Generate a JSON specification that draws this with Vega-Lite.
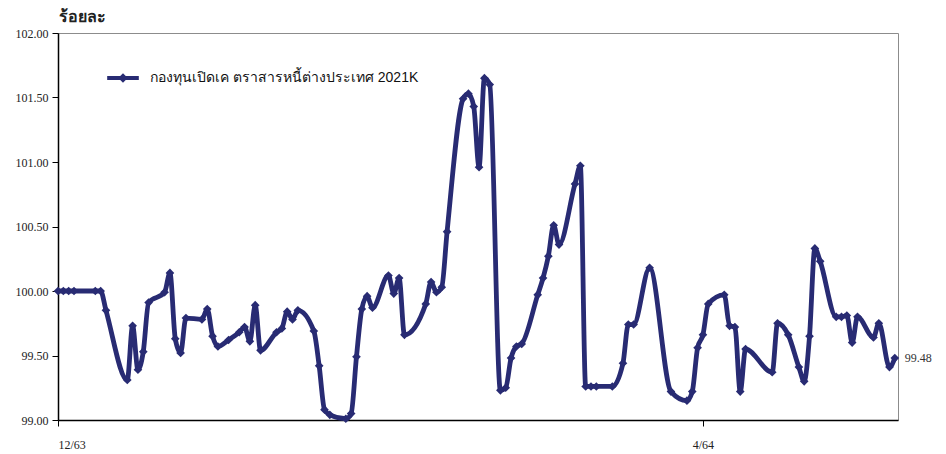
{
  "$schema": "https://vega.github.io/schema/vega-lite/v6.json",
  "width": 840,
  "height": 387,
  "autosize": {"type": "none"},
  "padding": {"left": 58, "top": 33, "right": 48, "bottom": 34},
  "background": "white",
  "config": {"view": {"stroke": "#8c8c8c", "strokeWidth": 1}},
  "data": {
    "format": {"parse": {"date": "date"}},
    "values": [
      {"date": "2020-12-01", "v": 100.00},
      {"date": "2020-12-02", "v": 100.00},
      {"date": "2020-12-03", "v": 100.00},
      {"date": "2020-12-04", "v": 100.00},
      {"date": "2020-12-08", "v": 100.00},
      {"date": "2020-12-09", "v": 100.00},
      {"date": "2020-12-10", "v": 99.85},
      {"date": "2020-12-14", "v": 99.31},
      {"date": "2020-12-15", "v": 99.73},
      {"date": "2020-12-16", "v": 99.39},
      {"date": "2020-12-17", "v": 99.53},
      {"date": "2020-12-18", "v": 99.91},
      {"date": "2020-12-21", "v": 99.99},
      {"date": "2020-12-22", "v": 100.14},
      {"date": "2020-12-23", "v": 99.63},
      {"date": "2020-12-24", "v": 99.52},
      {"date": "2020-12-25", "v": 99.79},
      {"date": "2020-12-28", "v": 99.78},
      {"date": "2020-12-29", "v": 99.86},
      {"date": "2020-12-30", "v": 99.65},
      {"date": "2020-12-31", "v": 99.57},
      {"date": "2021-01-02", "v": 99.62},
      {"date": "2021-01-04", "v": 99.68},
      {"date": "2021-01-05", "v": 99.72},
      {"date": "2021-01-06", "v": 99.61},
      {"date": "2021-01-07", "v": 99.89},
      {"date": "2021-01-08", "v": 99.54},
      {"date": "2021-01-11", "v": 99.68},
      {"date": "2021-01-12", "v": 99.71},
      {"date": "2021-01-13", "v": 99.84},
      {"date": "2021-01-14", "v": 99.78},
      {"date": "2021-01-15", "v": 99.85},
      {"date": "2021-01-18", "v": 99.69},
      {"date": "2021-01-19", "v": 99.42},
      {"date": "2021-01-20", "v": 99.08},
      {"date": "2021-01-21", "v": 99.04},
      {"date": "2021-01-24", "v": 99.01},
      {"date": "2021-01-25", "v": 99.05},
      {"date": "2021-01-26", "v": 99.49},
      {"date": "2021-01-27", "v": 99.86},
      {"date": "2021-01-28", "v": 99.96},
      {"date": "2021-01-29", "v": 99.87},
      {"date": "2021-02-01", "v": 100.12},
      {"date": "2021-02-02", "v": 99.98},
      {"date": "2021-02-03", "v": 100.10},
      {"date": "2021-02-04", "v": 99.66},
      {"date": "2021-02-08", "v": 99.90},
      {"date": "2021-02-09", "v": 100.07},
      {"date": "2021-02-10", "v": 99.99},
      {"date": "2021-02-11", "v": 100.03},
      {"date": "2021-02-12", "v": 100.46},
      {"date": "2021-02-15", "v": 101.49},
      {"date": "2021-02-16", "v": 101.53},
      {"date": "2021-02-17", "v": 101.43},
      {"date": "2021-02-18", "v": 100.96},
      {"date": "2021-02-19", "v": 101.65},
      {"date": "2021-02-20", "v": 101.60},
      {"date": "2021-02-22", "v": 99.23},
      {"date": "2021-02-23", "v": 99.25},
      {"date": "2021-02-24", "v": 99.48},
      {"date": "2021-02-25", "v": 99.57},
      {"date": "2021-02-26", "v": 99.59},
      {"date": "2021-03-01", "v": 99.97},
      {"date": "2021-03-02", "v": 100.10},
      {"date": "2021-03-03", "v": 100.27},
      {"date": "2021-03-04", "v": 100.51},
      {"date": "2021-03-05", "v": 100.36},
      {"date": "2021-03-08", "v": 100.83},
      {"date": "2021-03-09", "v": 100.97},
      {"date": "2021-03-10", "v": 99.26},
      {"date": "2021-03-11", "v": 99.26},
      {"date": "2021-03-12", "v": 99.26},
      {"date": "2021-03-15", "v": 99.26},
      {"date": "2021-03-17", "v": 99.44},
      {"date": "2021-03-18", "v": 99.74},
      {"date": "2021-03-19", "v": 99.74},
      {"date": "2021-03-22", "v": 100.18},
      {"date": "2021-03-26", "v": 99.22},
      {"date": "2021-03-29", "v": 99.15},
      {"date": "2021-03-30", "v": 99.22},
      {"date": "2021-03-31", "v": 99.56},
      {"date": "2021-04-01", "v": 99.66},
      {"date": "2021-04-02", "v": 99.90},
      {"date": "2021-04-05", "v": 99.97},
      {"date": "2021-04-06", "v": 99.73},
      {"date": "2021-04-07", "v": 99.72},
      {"date": "2021-04-08", "v": 99.22},
      {"date": "2021-04-09", "v": 99.55},
      {"date": "2021-04-14", "v": 99.37},
      {"date": "2021-04-15", "v": 99.75},
      {"date": "2021-04-17", "v": 99.66},
      {"date": "2021-04-19", "v": 99.41},
      {"date": "2021-04-20", "v": 99.30},
      {"date": "2021-04-21", "v": 99.65},
      {"date": "2021-04-22", "v": 100.33},
      {"date": "2021-04-23", "v": 100.23},
      {"date": "2021-04-26", "v": 99.80},
      {"date": "2021-04-27", "v": 99.80},
      {"date": "2021-04-28", "v": 99.81},
      {"date": "2021-04-29", "v": 99.60},
      {"date": "2021-04-30", "v": 99.80},
      {"date": "2021-05-03", "v": 99.64},
      {"date": "2021-05-04", "v": 99.75},
      {"date": "2021-05-06", "v": 99.41},
      {"date": "2021-05-07", "v": 99.48}
    ]
  },
  "encoding": {
    "x": {
      "field": "date",
      "type": "temporal",
      "scale": {
        "type": "utc",
        "domain": [
          {"year": 2020, "month": 12, "date": 1, "utc": true},
          {"year": 2021, "month": 5, "date": 7, "hours": 14, "minutes": 24, "utc": true}
        ]
      },
      "axis": {
        "title": null,
        "grid": false,
        "values": [
          {"year": 2020, "month": 12, "date": 1, "utc": true},
          {"year": 2021, "month": 4, "date": 1, "utc": true}
        ],
        "labelExpr": "(utcmonth(datum.value) + 1) + '/' + ((utcyear(datum.value) + 543) % 100)",
        "domainColor": "#000000",
        "domainWidth": 1.5,
        "tickColor": "#000000",
        "tickSize": 6,
        "labelPadding": 13,
        "labelFont": "Liberation Serif",
        "labelFontSize": 12,
        "labelColor": "#222222"
      }
    },
    "y": {
      "field": "v",
      "type": "quantitative",
      "scale": {"domain": [99, 102], "zero": false, "nice": false},
      "axis": {
        "values": [99, 99.5, 100, 100.5, 101, 101.5, 102],
        "format": ".2f",
        "grid": false,
        "domainColor": "#000000",
        "domainWidth": 1.5,
        "tickColor": "#000000",
        "tickSize": 6,
        "labelPadding": 4,
        "labelFont": "Liberation Serif",
        "labelFontSize": 12,
        "labelColor": "#222222",
        "title": "ร้อยละ",
        "titleAngle": 0,
        "titleAlign": "left",
        "titleBaseline": "bottom",
        "titleX": 0,
        "titleY": -9,
        "titleFontSize": 16,
        "titleFontWeight": "bold",
        "titleColor": "#222222"
      }
    }
  },
  "layer": [
    {
      "mark": {"type": "line", "interpolate": "monotone", "strokeWidth": 4.8, "color": "#282b73"},
      "encoding": {}
    },
    {
      "mark": {"type": "point", "shape": "diamond", "filled": true, "size": 75, "opacity": 1},
      "encoding": {
        "color": {
          "datum": "กองทุนเปิดเค ตราสารหนี้ต่างประเทศ 2021K",
          "type": "nominal",
          "scale": {"range": ["#282b73"]},
          "legend": {
            "title": null,
            "orient": "none",
            "legendX": 48,
            "legendY": 28,
            "symbolType": "M-1,-0.12H1V0.12H-1Z M-0.3,0L0,-0.3L0.3,0L0,0.3Z",
            "symbolSize": 1000,
            "symbolOpacity": 1,
            "labelFontSize": 14,
            "labelColor": "#111111",
            "labelLimit": 0,
            "labelOffset": 10
          }
        }
      }
    },
    {
      "transform": [{"filter": "utcmonth(datum.date) == 4 && utcdate(datum.date) == 7"}],
      "mark": {"type": "text", "align": "left", "dx": 10, "font": "Liberation Serif", "fontSize": 12, "color": "#333333"},
      "encoding": {"text": {"field": "v", "type": "quantitative", "format": ".2f"}}
    }
  ]
}
